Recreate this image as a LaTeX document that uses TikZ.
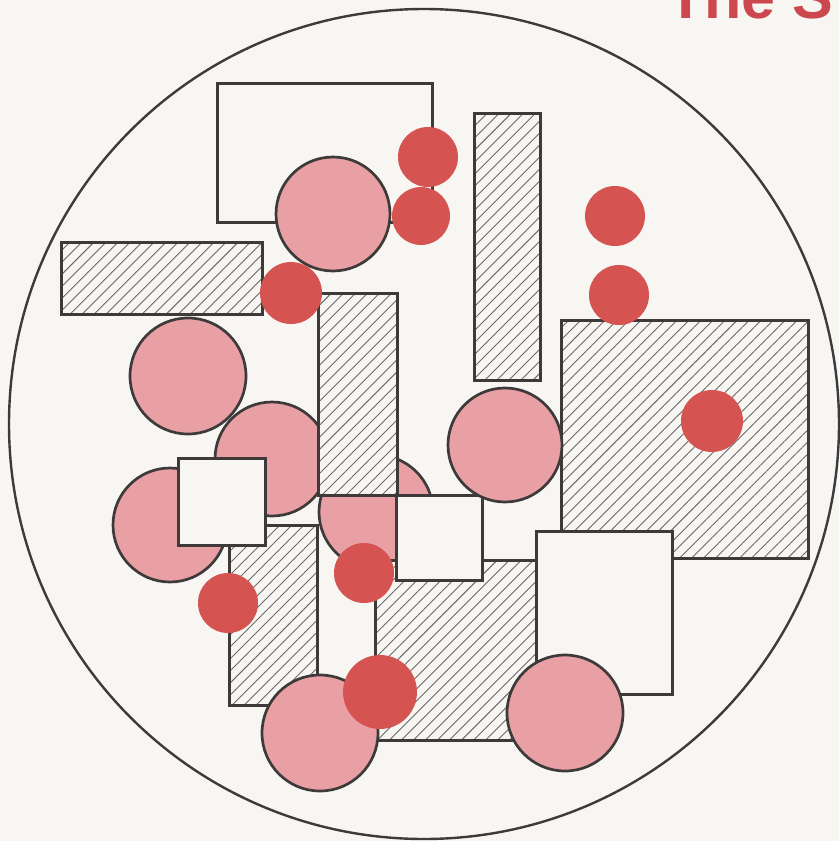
\documentclass[tikz,border=0pt]{standalone}
\usepackage{fontspec}
\newfontfamily\titlefont{Liberation Sans}
\usetikzlibrary{patterns.meta}
\definecolor{bgc}{RGB}{248,246,243}
\definecolor{edge}{RGB}{62,58,58}
\definecolor{pinkc}{RGB}{233,160,164}
\definecolor{redc}{RGB}{213,84,82}
\definecolor{titlec}{RGB}{204,72,78}
\definecolor{hatchc}{RGB}{105,105,105}
\begin{document}
\begin{tikzpicture}[x=1pt,y=-1pt,
  whitebox/.style={draw=edge,line width=3pt,fill=bgc},
  hatchbox/.style={draw=edge,line width=3pt,preaction={fill=bgc},
    pattern={Lines[angle=45,distance=8.5pt,line width=0.9pt]},pattern color=hatchc},
  pinkdisc/.style={draw=edge,line width=2.7pt,fill=pinkc},
  reddot/.style={fill=redc}]
\fill[bgc] (0,0) rectangle (839,841);
\useasboundingbox (0,0) rectangle (839,841);
% big circle
\draw[edge,line width=2.4pt] (424,424) circle[radius=415];
% title
\node[anchor=base west,inner sep=0pt,text=titlec,
  font={\titlefont\bfseries\fontsize{61pt}{61pt}\selectfont}] (title) at (667,18) {The S};
% bottom layer boxes
\draw[whitebox] (217,83) rectangle (432,222);   % A
\draw[hatchbox] (61,242) rectangle (262,314);   % C
\draw[hatchbox] (474,113) rectangle (540,380);  % B
\draw[hatchbox] (561,320) rectangle (808,558);  % G
% pink discs under boxes
\draw[pinkdisc] (188,376) circle[radius=58];    % P2
\draw[pinkdisc] (272,459) circle[radius=57];    % P3
\draw[pinkdisc] (170,525) circle[radius=57];    % P4
\draw[pinkdisc] (376,512) circle[radius=57];    % Pmid
% boxes over discs
\draw[hatchbox] (318,293) rectangle (397,495);  % D
\draw[hatchbox] (229,525) rectangle (317,705);  % I
\draw[whitebox] (178,458) rectangle (265,545);  % J
\draw[hatchbox] (375,560) rectangle (560,740);  % F
\draw[whitebox] (396,495) rectangle (482,580);  % E
\draw[whitebox] (536,531) rectangle (672,694);  % H
% upper pink discs
\draw[pinkdisc] (333,214) circle[radius=57];    % P1
\draw[pinkdisc] (505,445) circle[radius=57];    % P6
\draw[pinkdisc] (320,733) circle[radius=58];    % P5
\draw[pinkdisc] (565,713) circle[radius=58];    % Pbr
% red dots
\fill[reddot] (428,157) circle[radius=30];
\fill[reddot] (421,216) circle[radius=29];
\fill[reddot] (615,216) circle[radius=30];
\fill[reddot] (619,295) circle[radius=30];
\fill[reddot] (291,293) circle[radius=31];
\fill[reddot] (364,573) circle[radius=30];
\fill[reddot] (228,603) circle[radius=30];
\fill[reddot] (380,692) circle[radius=37];
\fill[reddot] (712,421) circle[radius=31];
\end{tikzpicture}
\end{document}
